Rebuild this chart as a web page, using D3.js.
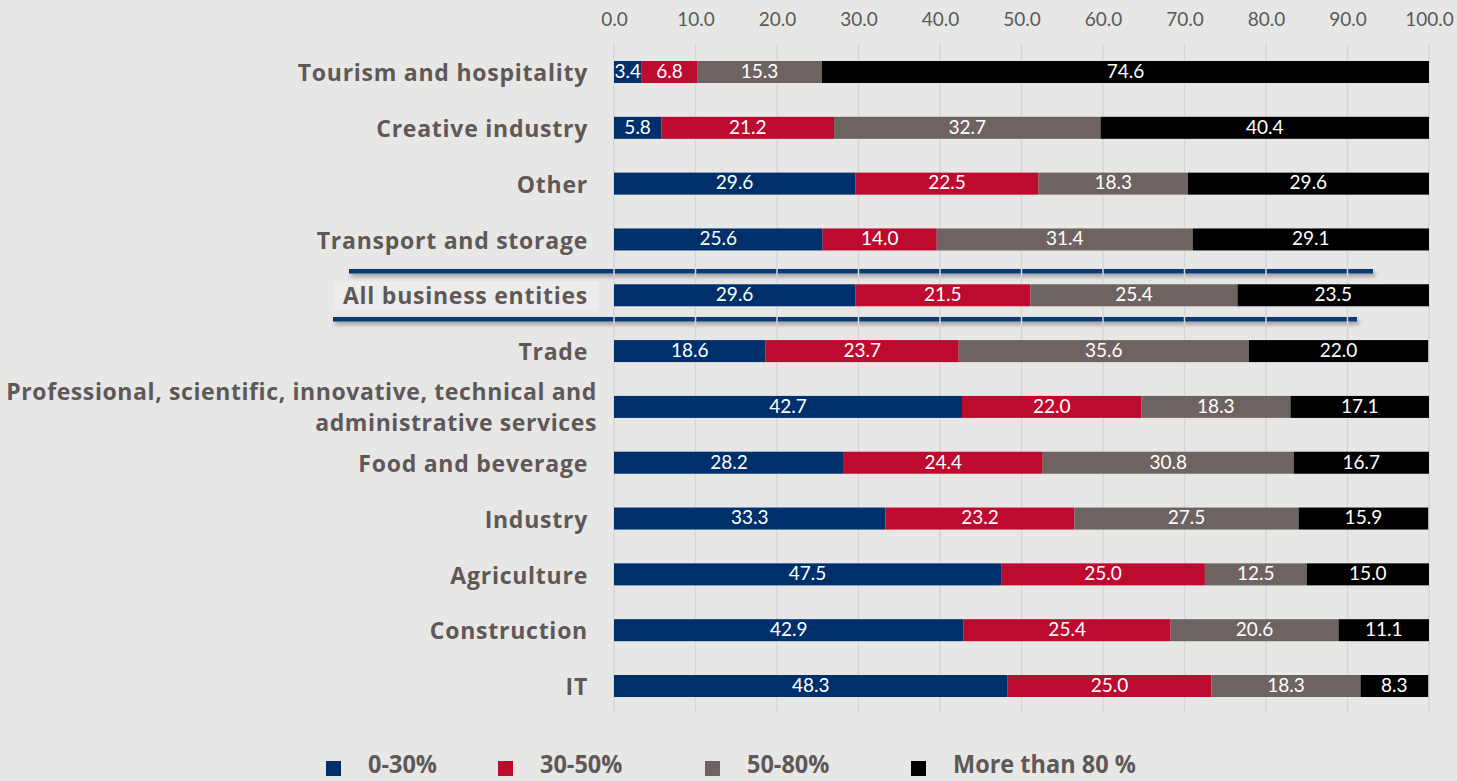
<!DOCTYPE html>
<html>
<head>
<meta charset="utf-8">
<script src="https://cdn.jsdelivr.net/npm/d3@7"></script>
<style>
  html, body { margin: 0; padding: 0; background: #e7e7e6; }
  svg { display: block; }
</style>
</head>
<body>
<svg id="chart" width="1457" height="781"></svg>
<script>
// Share of revenue bands by sector (percent of business entities)
const categories = [
  "Tourism and hospitality",
  "Creative industry",
  "Other",
  "Transport and storage",
  "All business entities",
  "Trade",
  "Professional, scientific, innovative, technical and administrative services",
  "Food and beverage",
  "Industry",
  "Agriculture",
  "Construction",
  "IT"
];
const seriesNames = ["0-30%", "30-50%", "50-80%", "More than 80 %"];
const band0to30   = [3.4, 5.8, 29.6, 25.6, 29.6, 18.6, 42.7, 28.2, 33.3, 47.5, 42.9, 48.3];
const band30to50  = [6.8, 21.2, 22.5, 14.0, 21.5, 23.7, 22.0, 24.4, 23.2, 25.0, 25.4, 25.0];
const band50to80  = [15.3, 32.7, 18.3, 31.4, 25.4, 35.6, 18.3, 30.8, 27.5, 12.5, 20.6, 18.3];
const bandOver80  = [74.6, 40.4, 29.6, 29.1, 23.5, 22.0, 17.1, 16.7, 15.9, 15.0, 11.1, 8.3];
const tickValues  = [0, 10, 20, 30, 40, 50, 60, 70, 80, 90, 100];
const colors = ["#00306b", "#bd0a2f", "#6d6462", "#000000"];

const rows = categories.map((c, i) => ({
  category: c,
  "0-30%": band0to30[i],
  "30-50%": band30to50[i],
  "50-80%": band50to80[i],
  "More than 80 %": bandOver80[i]
}));

const labelFont = "'Open Sans', Lato, sans-serif";
const numberFont = "Lato, 'Open Sans', sans-serif";

const svg = d3.select("#chart");
const x = d3.scaleLinear().domain([0, 100]).range([614, 1429]).clamp(true);
const y = d3.scalePoint().domain(categories).range([72, 686]);
const barH = 22;
const color = d3.scaleOrdinal().domain(seriesNames).range(colors);

const defs = svg.append("defs");
const shadow = defs.append("filter").attr("id", "shadow")
  .attr("x", "-5%").attr("y", "-200%").attr("width", "110%").attr("height", "500%");
shadow.append("feDropShadow").attr("dx", 2).attr("dy", 3).attr("stdDeviation", 2)
  .attr("flood-color", "#000").attr("flood-opacity", 0.35);

// Highlight box behind the all-entities label
const allY = y("All business entities");
svg.append("rect")
  .attr("x", 333).attr("y", allY - 14).attr("width", 265).attr("height", 29)
  .attr("fill", "#ececeb");

// Separator lines around the all-entities row
const sepG = svg.append("g").attr("filter", "url(#shadow)");
sepG.append("line")
  .attr("x1", 349).attr("x2", 1373).attr("y1", allY - 24).attr("y2", allY - 24)
  .attr("stroke", "#0b3877").attr("stroke-width", 4.5);
sepG.append("line")
  .attr("x1", 333).attr("x2", 1357).attr("y1", allY + 24).attr("y2", allY + 24)
  .attr("stroke", "#0b3877").attr("stroke-width", 4.5);

// Top axis with vertical gridlines
const axis = d3.axisTop(x).tickValues(tickValues).tickFormat(d3.format(".1f")).tickSize(0).tickPadding(0);
const axisG = svg.append("g").attr("transform", "translate(0,26)").call(axis);
axisG.select(".domain").remove();
axisG.selectAll("text")
  .attr("font-family", numberFont)
  .attr("font-size", 19)
  .attr("fill", "#5a5a5a")
  .attr("dy", 0);

svg.append("g").selectAll("line").data(tickValues).join("line")
  .attr("x1", d => x(d)).attr("x2", d => x(d))
  .attr("y1", 44).attr("y2", 713)
  .attr("stroke", "#d6d6d5").attr("stroke-width", 1.5);

// Stacked bars
const stack = d3.stack().keys(seriesNames);
const stacked = stack(rows);

const layer = svg.append("g").selectAll("g").data(stacked).join("g")
  .attr("fill", d => color(d.key));
layer.selectAll("rect").data(d => d.map(v => ({ v, key: d.key }))).join("rect")
  .attr("x", d => x(d.v[0]))
  .attr("y", d => y(d.v.data.category) - barH / 2)
  .attr("width", d => Math.max(0, x(d.v[1]) - x(d.v[0])))
  .attr("height", barH);

// Value labels centred in each segment
const labelG = svg.append("g");
stacked.forEach(s => {
  s.forEach(v => {
    labelG.append("text")
      .attr("x", (x(v[0]) + x(v[1])) / 2)
      .attr("y", y(v.data.category) + 1)
      .attr("text-anchor", "middle")
      .attr("dominant-baseline", "middle")
      .attr("font-family", numberFont)
      .attr("font-size", 19)
      .attr("fill", "#ffffff")
      .text(d3.format(".1f")(v.data[s.key]));
  });
});

// Category labels
const catG = svg.append("g")
  .attr("font-family", labelFont)
  .attr("font-weight", "bold")
  .attr("font-size", 23)
  .attr("letter-spacing", 0.75)
  .attr("fill", "#5f5858");
categories.forEach(c => {
  const cy = y(c) + 3;
  if (c.startsWith("Professional")) {
    const t = catG.append("text").attr("text-anchor", "end").attr("letter-spacing", 0.6);
    t.append("tspan").attr("x", 597).attr("y", cy - 16).attr("dominant-baseline", "middle")
      .text("Professional, scientific, innovative, technical and");
    t.append("tspan").attr("x", 597).attr("y", cy + 15).attr("dominant-baseline", "middle")
      .text("administrative services");
  } else {
    catG.append("text")
      .attr("x", 588).attr("y", cy)
      .attr("text-anchor", "end")
      .attr("dominant-baseline", "middle")
      .text(c);
  }
});

// Legend
const legendX = [326, 498, 705, 911];
const legend = svg.append("g");
seriesNames.forEach((name, i) => {
  legend.append("rect")
    .attr("x", legendX[i]).attr("y", 761).attr("width", 15).attr("height", 15)
    .attr("fill", colors[i]);
  legend.append("text")
    .attr("transform", `translate(${legendX[i] + 42},773) scale(0.94,1)`)
    .attr("font-family", labelFont)
    .attr("font-weight", "bold")
    .attr("font-size", 25)
    .attr("fill", "#5f5858")
    .text(name);
});
</script>
</body>
</html>
